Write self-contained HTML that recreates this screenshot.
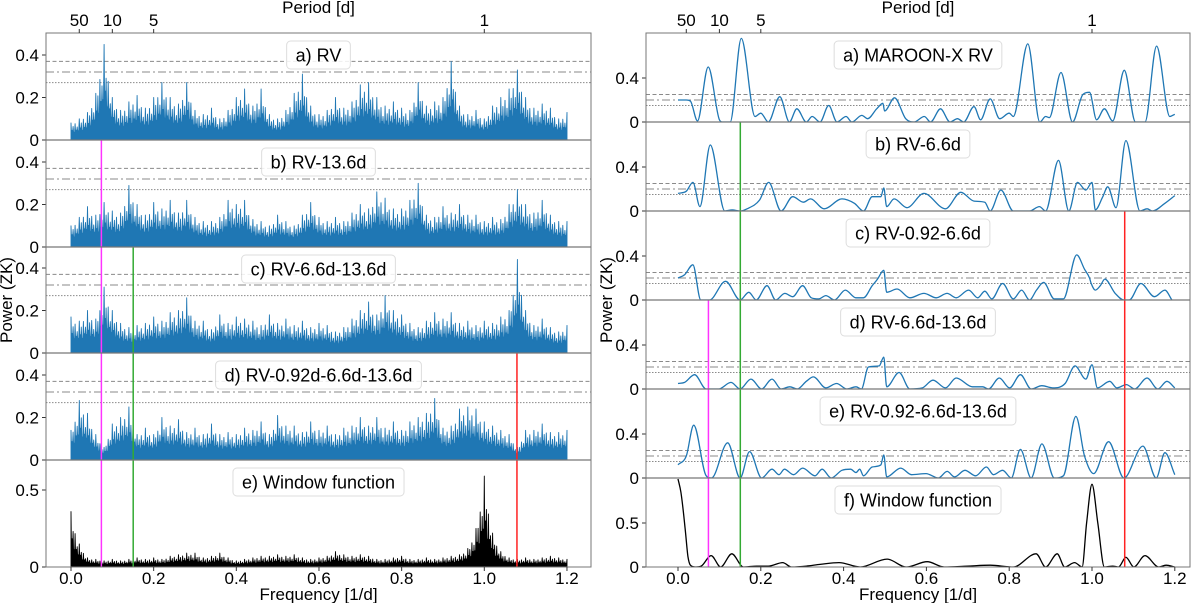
<!DOCTYPE html>
<html><head><meta charset="utf-8"><style>
body{margin:0;background:#fff;}
svg{display:block;font-family:"Liberation Sans","DejaVu Sans",sans-serif;}
</style></head><body>
<svg id="chart" width="1200" height="603" viewBox="0 0 1200 603" xmlns="http://www.w3.org/2000/svg"></svg>
<script>
// ---------- data ----------
const leftA=[.08,.1,.13,.22,.45,.2,.14,.18,.21,.15,.2,.27,.2,.17,.27,.14,.12,.15,.1,.14,.2,.24,.16,.24,.12,.1,.14,.22,.31,.16,.12,.14,.2,.15,.18,.26,.27,.2,.16,.18,.15,.14,.27,.16,.18,.2,.37,.16,.12,.14,.1,.16,.2,.24,.33,.2,.15,.17,.15,.1,.13];
const leftB=[.1,.14,.19,.15,.21,.17,.16,.29,.2,.15,.21,.18,.22,.16,.22,.14,.12,.12,.14,.22,.2,.22,.13,.12,.1,.15,.12,.1,.15,.21,.14,.12,.14,.12,.16,.2,.18,.26,.23,.18,.18,.22,.3,.15,.14,.19,.16,.2,.15,.15,.12,.14,.13,.2,.27,.2,.16,.22,.15,.12,.12];
const leftC=[.17,.15,.2,.16,.31,.2,.14,.12,.13,.14,.17,.15,.19,.2,.26,.15,.15,.11,.18,.14,.17,.16,.15,.13,.18,.14,.16,.13,.15,.12,.14,.13,.1,.12,.16,.2,.24,.18,.27,.2,.18,.14,.12,.15,.19,.16,.19,.14,.15,.13,.15,.14,.17,.2,.44,.2,.13,.16,.12,.1,.13];
const leftD=[.14,.28,.22,.12,.06,.17,.2,.25,.12,.15,.12,.2,.16,.19,.13,.15,.12,.17,.12,.13,.12,.15,.14,.18,.12,.21,.16,.16,.13,.18,.14,.16,.12,.15,.16,.2,.16,.2,.15,.18,.14,.18,.2,.22,.29,.15,.16,.24,.25,.24,.18,.16,.14,.12,.06,.14,.14,.17,.13,.13,.14];
const leftWin=[.36,.15,.06,.05,.04,.05,.04,.05,.06,.05,.06,.05,.07,.08,.09,.09,.06,.07,.09,.06,.04,.05,.06,.07,.07,.08,.07,.08,.06,.05,.06,.07,.1,.08,.07,.08,.07,.05,.05,.06,.07,.05,.05,.06,.05,.06,.07,.08,.12,.25,.59,.22,.1,.06,.05,.06,.05,.06,.07,.06,.05];

const rAFreq=[0,.02,.03,.047,.073,.1,.107,.126,.153,.186,.2,.218,.246,.269,.287,.31,.324,.343,.364,.384,.406,.42,.444,.458,.48,.495,.499,.523,.55,.57,.595,.61,.634,.657,.675,.69,.715,.731,.754,.777,.8,.81,.845,.874,.888,.897,.925,.953,.978,.994,1.011,1.03,1.05,1.078,1.105,1.128,1.156,1.188,1.2];
const rAPow=[.2,.2,.19,.01,.5,.02,0,0,.76,.05,.08,0,.23,0,.12,0,.05,0,.15,0,.05,0,.06,.03,.12,.17,.1,.22,.03,0,.05,0,.12,0,.03,0,.14,.02,.21,.03,.08,.05,.71,0,.05,.04,.45,0,.25,.27,.02,.12,.01,.47,0,0,.69,.05,.07];
const rBFreq=[0,.02,.036,.053,.078,.113,.131,.15,.167,.197,.219,.249,.277,.303,.32,.353,.396,.426,.448,.469,.49,.497,.504,.522,.553,.594,.646,.683,.715,.741,.754,.78,.81,.849,.873,.888,.919,.944,.965,.985,1.0,1.008,1.026,1.038,1.058,1.082,1.116,1.133,1.146,1.176,1.2];
const rBPow=[.16,.18,.26,.04,.6,0,.01,0,.02,.1,.26,0,.13,.08,.11,.02,.11,.07,0,.13,.13,.21,.04,.11,.03,.16,.02,.17,.09,.08,0,.19,0,0,.04,0,.46,0,.26,.19,.26,.01,.13,.22,.03,.64,0,.02,0,.07,.14];
const rCFreq=[0,.016,.036,.055,.076,.115,.15,.171,.189,.215,.236,.258,.277,.301,.322,.34,.357,.378,.404,.43,.448,.469,.482,.497,.504,.529,.56,.594,.624,.65,.672,.702,.724,.741,.758,.784,.81,.83,.849,.866,.883,.909,.931,.963,.982,.994,.998,1.008,1.02,1.031,1.056,1.077,1.09,1.118,1.151,1.176,1.193];
const rCPow=[.2,.23,.32,0,0,.17,0,.07,0,.13,0,.06,.03,.13,.02,.01,.04,0,.09,.02,.02,.13,.19,.27,.07,.1,.02,.06,.02,.06,.02,.09,.02,.08,.01,.15,.01,.09,0,.09,.16,.01,.01,.41,.28,.2,.15,.09,.13,.19,.06,0,0,.15,.03,.09,0];
const rDFreq=[0,.016,.04,.068,.098,.128,.15,.176,.202,.227,.249,.27,.288,.31,.327,.357,.383,.408,.43,.443,.46,.486,.497,.504,.534,.56,.59,.616,.646,.672,.711,.736,.75,.776,.801,.827,.853,.879,.905,.935,.959,.985,1.0,1.013,1.043,1.06,1.083,1.103,1.133,1.159,1.181,1.2];
const rDPow=[.05,.06,.13,0,0,.06,0,.09,0,.09,0,.02,0,.07,.11,.01,.05,0,.02,0,.2,.21,.29,.02,.15,0,.01,.08,.01,.1,.02,.02,0,.1,.01,.13,0,.03,.01,.05,.21,.09,.22,.01,.07,.01,.04,0,.1,0,.07,.01];
const rEFreq=[0,.02,.038,.068,.081,.12,.15,.173,.202,.227,.244,.257,.279,.301,.331,.348,.37,.396,.417,.43,.439,.448,.469,.49,.497,.504,.538,.564,.599,.629,.65,.668,.693,.719,.745,.762,.784,.805,.827,.853,.879,.909,.931,.961,.982,1.004,1.04,1.077,1.123,1.155,1.176,1.2];
const rEPow=[.12,.2,.48,.02,0,.32,0,.24,0,.08,.03,.08,.03,.09,.02,.08,0,.07,.08,.05,.08,.02,.1,.12,.21,.01,.09,.03,.04,0,.06,.01,.07,.02,.1,.03,.07,0,.26,0,.31,0,.02,.56,.2,.04,.33,0,.29,0,.23,.03];
const rWFreq=[0,.007,.017,.024,.03,.043,.056,.08,.103,.13,.158,.19,.218,.253,.274,.31,.343,.389,.44,.505,.551,.602,.643,.699,.754,.81,.865,.888,.916,.934,.958,.976,.987,1.0,1.014,1.03,1.05,1.064,1.082,1.101,1.128,1.161,1.179,1.2];
const rWPow=[1.0,.85,.45,.12,.02,0,.01,.13,0,.15,0,.01,.01,.05,0,.01,.03,.05,0,.09,0,.06,0,.01,.02,0,.15,0,.15,0,.05,0,.5,.94,.5,0,.01,0,.11,0,.13,0,.02,0];

const thrLeft=[.37,.32,.27];
const thrRight=[.25,.2,.15];
const markLines=[.0735,.1505,1.079];
const periodTicks=[50,10,5,1];

// ---------- helpers ----------
const NS="http://www.w3.org/2000/svg";
const svg=document.getElementById('chart');
function el(tag,attrs,parent){const e=document.createElementNS(NS,tag);for(const k in attrs)e.setAttribute(k,attrs[k]);(parent||svg).appendChild(e);return e;}

const L={x0:71,ppu:413.3,left:46,right:591};
const R={x0:678,ppu:414,left:646,right:1190};
function xs(side,f){return side.x0+f*side.ppu;}

function monotonePath(xsA,ysA){
  const n=xsA.length;const d=[],m=[];
  for(let i=0;i<n-1;i++)d.push((ysA[i+1]-ysA[i])/(xsA[i+1]-xsA[i]));
  for(let i=0;i<n;i++){
    if(i===0)m.push(d[0]);else if(i===n-1)m.push(d[n-2]);
    else if(d[i-1]*d[i]<=0)m.push(0);else m.push((d[i-1]+d[i])/2);
  }
  for(let i=0;i<n-1;i++){if(d[i]===0){m[i]=0;m[i+1]=0;}else{const a=m[i]/d[i],b=m[i+1]/d[i];const s=a*a+b*b;if(s>9){const t=3/Math.sqrt(s);m[i]=t*a*d[i];m[i+1]=t*b*d[i];}}}
  let p="M"+xsA[0].toFixed(1)+","+ysA[0].toFixed(1);
  for(let i=0;i<n-1;i++){const h=xsA[i+1]-xsA[i];
    p+="C"+(xsA[i]+h/3).toFixed(1)+","+(ysA[i]+m[i]*h/3).toFixed(1)+" "+(xsA[i+1]-h/3).toFixed(1)+","+(ysA[i+1]-m[i+1]*h/3).toFixed(1)+" "+xsA[i+1].toFixed(1)+","+ysA[i+1].toFixed(1);}
  return p;
}
const pat=[1,.55,.75,.4,.85,.5,.65,.45];
function densePath(side,vals,y0,sc,trough){
  const n=vals.length,step=1.2/(n-1);
  let p="M"+xs(side,0).toFixed(1)+","+y0;
  for(let i=0;i<n-1;i++){
    for(let k=0;k<8;k++){
      const f=i*step+k*step/8;const env=vals[i]+(vals[i+1]-vals[i])*k/8;
      const x=xs(side,f);
      p+="L"+x.toFixed(1)+","+(y0-env*pat[k]*sc).toFixed(1);
      p+="L"+(x+step/16*side.ppu).toFixed(1)+","+(y0-env*trough*sc).toFixed(1);
    }
  }
  const xe=xs(side,1.2);
  p+="L"+xe.toFixed(1)+","+(y0-vals[n-1]*sc).toFixed(1)+"L"+xe.toFixed(1)+","+y0+"Z";
  return p;
}
function labelBox(cx,top,text,name){
  const g=el('g',{});
  
  
  const r=el('rect',{y:top,height:28,rx:4,fill:'#fff','fill-opacity':0.85,stroke:'#ddd','stroke-width':1},g);
  const t=el('text',{x:cx,y:top+20.5,'text-anchor':'middle','font-size':18,fill:'#000'},g);
  t.textContent=text;
  const w=t.getComputedTextLength()+18;
  r.setAttribute('x',cx-w/2);r.setAttribute('width',w);
}
function panel(side,top,bottom,y0,sc,ticks,tickLbls,thr,kind,data,label,name,color){
  const g=el('g',{});
  
  
  const cid='clip-'+name;
  const cp=el('clipPath',{id:cid},g);el('rect',{x:side.left,y:top,width:side.right-side.left,height:bottom-top},cp);
  if(thr){const dashes=['4,2.5','8,3,2,3','1.5,1.5'];
    thr.forEach((v,i)=>{const ln=el('line',{x1:side.left,x2:side.right,y1:y0-v*sc,y2:y0-v*sc,stroke:'#8a8a8a','stroke-width':1,'stroke-dasharray':dashes[i]},g);
      
      });}
  const dg=el('g',{'clip-path':'url(#'+cid+')'},g);
  if(kind==='dense'){
    const p=el('path',{d:densePath(side,data,y0,sc,color==='#000'?0.3:0.42),fill:color,stroke:color,'stroke-width':0.9,'stroke-linejoin':'round'},dg);
    
    
  }else{
    const X=data[0].map(f=>xs(side,f)),Y=data[1].map(v=>y0-v*sc);
    const p=el('path',{d:monotonePath(X,Y),fill:'none',stroke:color,'stroke-width':1.3},dg);
    
    
  }
  ticks.forEach((v,i)=>{const y=y0-v*sc;
    el('line',{x1:side.left-4,x2:side.left,y1:y,y2:y,stroke:'#333','stroke-width':1},g);
    const t=el('text',{x:side.left-7,y:y+6,'text-anchor':'end','font-size':17,fill:'#000'},g);
    
    
    t.textContent=tickLbls[i];});
  labelBox((side.left+side.right)/2,top+8,label,name+'-label');
}

// ---------- left column ----------
const lTops=[33,140,247,353,460,567];
const lNames=['a) RV','b) RV-13.6d','c) RV-6.6d-13.6d','d) RV-0.92d-6.6d-13.6d'];
const lData=[leftA,leftB,leftC,leftD];
for(let i=0;i<4;i++) panel(L,lTops[i],lTops[i+1],lTops[i+1],212.5,[0,.2,.4],['0','0.2','0.4'],thrLeft,'dense',lData[i],lNames[i],'left-panel-'+'abcd'[i],'#1f77b4');
panel(L,460,567,567,154,[0,.5],['0','0.5'],null,'dense',leftWin,'e) Window function','left-panel-e','#000');

// ---------- right column ----------
const rTops=[33,122,211,300,389,478,567];
const rNames=['a) MAROON-X RV','b) RV-6.6d','c) RV-0.92-6.6d','d) RV-6.6d-13.6d','e) RV-0.92-6.6d-13.6d'];
const rData=[[rAFreq,rAPow],[rBFreq,rBPow],[rCFreq,rCPow],[rDFreq,rDPow],[rEFreq,rEPow]];
for(let i=0;i<5;i++) panel(R,rTops[i],rTops[i+1],rTops[i+1],110,[0,.4],['0','0.4'],thrRight,'smooth',rData[i],rNames[i],'right-panel-'+'abcde'[i],'#1f77b4');
panel(R,478,567,567,88,[0,.5],['0','0.5'],null,'smooth',[rWFreq,rWPow],'f) Window function','right-panel-f','#000');

// ---------- vertical marker lines ----------
const mColors=['#ff33ff','#33aa33','#ff2222'];
const lStart=[140,247,353],rStart=[300,122,211];
markLines.forEach((f,i)=>{
  const a=el('line',{x1:xs(L,f),x2:xs(L,f),y1:lStart[i],y2:567,stroke:mColors[i],'stroke-width':1.5});
  
  
  const b=el('line',{x1:xs(R,f),x2:xs(R,f),y1:rStart[i],y2:567,stroke:mColors[i],'stroke-width':1.5});
  
  
});

// ---------- frames, axes ----------
[[L,lTops],[R,rTops]].forEach(([side,tops])=>{
  el('rect',{x:side.left,y:33,width:side.right-side.left,height:534,fill:'none',stroke:'#777','stroke-width':1});
  tops.slice(1,-1).forEach(y=>el('line',{x1:side.left,x2:side.right,y1:y,y2:y,stroke:'#777','stroke-width':1.2}));
  [0,.2,.4,.6,.8,1,1.2].forEach(f=>{const x=xs(side,f);
    el('line',{x1:x,x2:x,y1:567,y2:571,stroke:'#333'});
    const t=el('text',{x:x,y:584,'text-anchor':'middle','font-size':17});
    
    
    t.textContent=f.toFixed(1);});
  periodTicks.forEach(p=>{const x=xs(side,1/p);
    el('line',{x1:x,x2:x,y1:29,y2:33,stroke:'#333'});
    const t=el('text',{x:x,y:26,'text-anchor':'middle','font-size':17});
    
    
    t.textContent=String(p);});
  const cx=(side.left+side.right)/2;
  const xt=el('text',{x:cx,y:600,'text-anchor':'middle','font-size':17});
  
  
  xt.textContent='Frequency [1/d]';
  const pt=el('text',{x:cx,y:13,'text-anchor':'middle','font-size':17});
  
  
  pt.textContent='Period [d]';
  const yx=side.left-34;
  const yt=el('text',{x:yx,y:300,'text-anchor':'middle','font-size':17,transform:'rotate(-90 '+yx+' 300)'});
  
  
  yt.textContent='Power (ZK)';
});
</script>
</body></html>
